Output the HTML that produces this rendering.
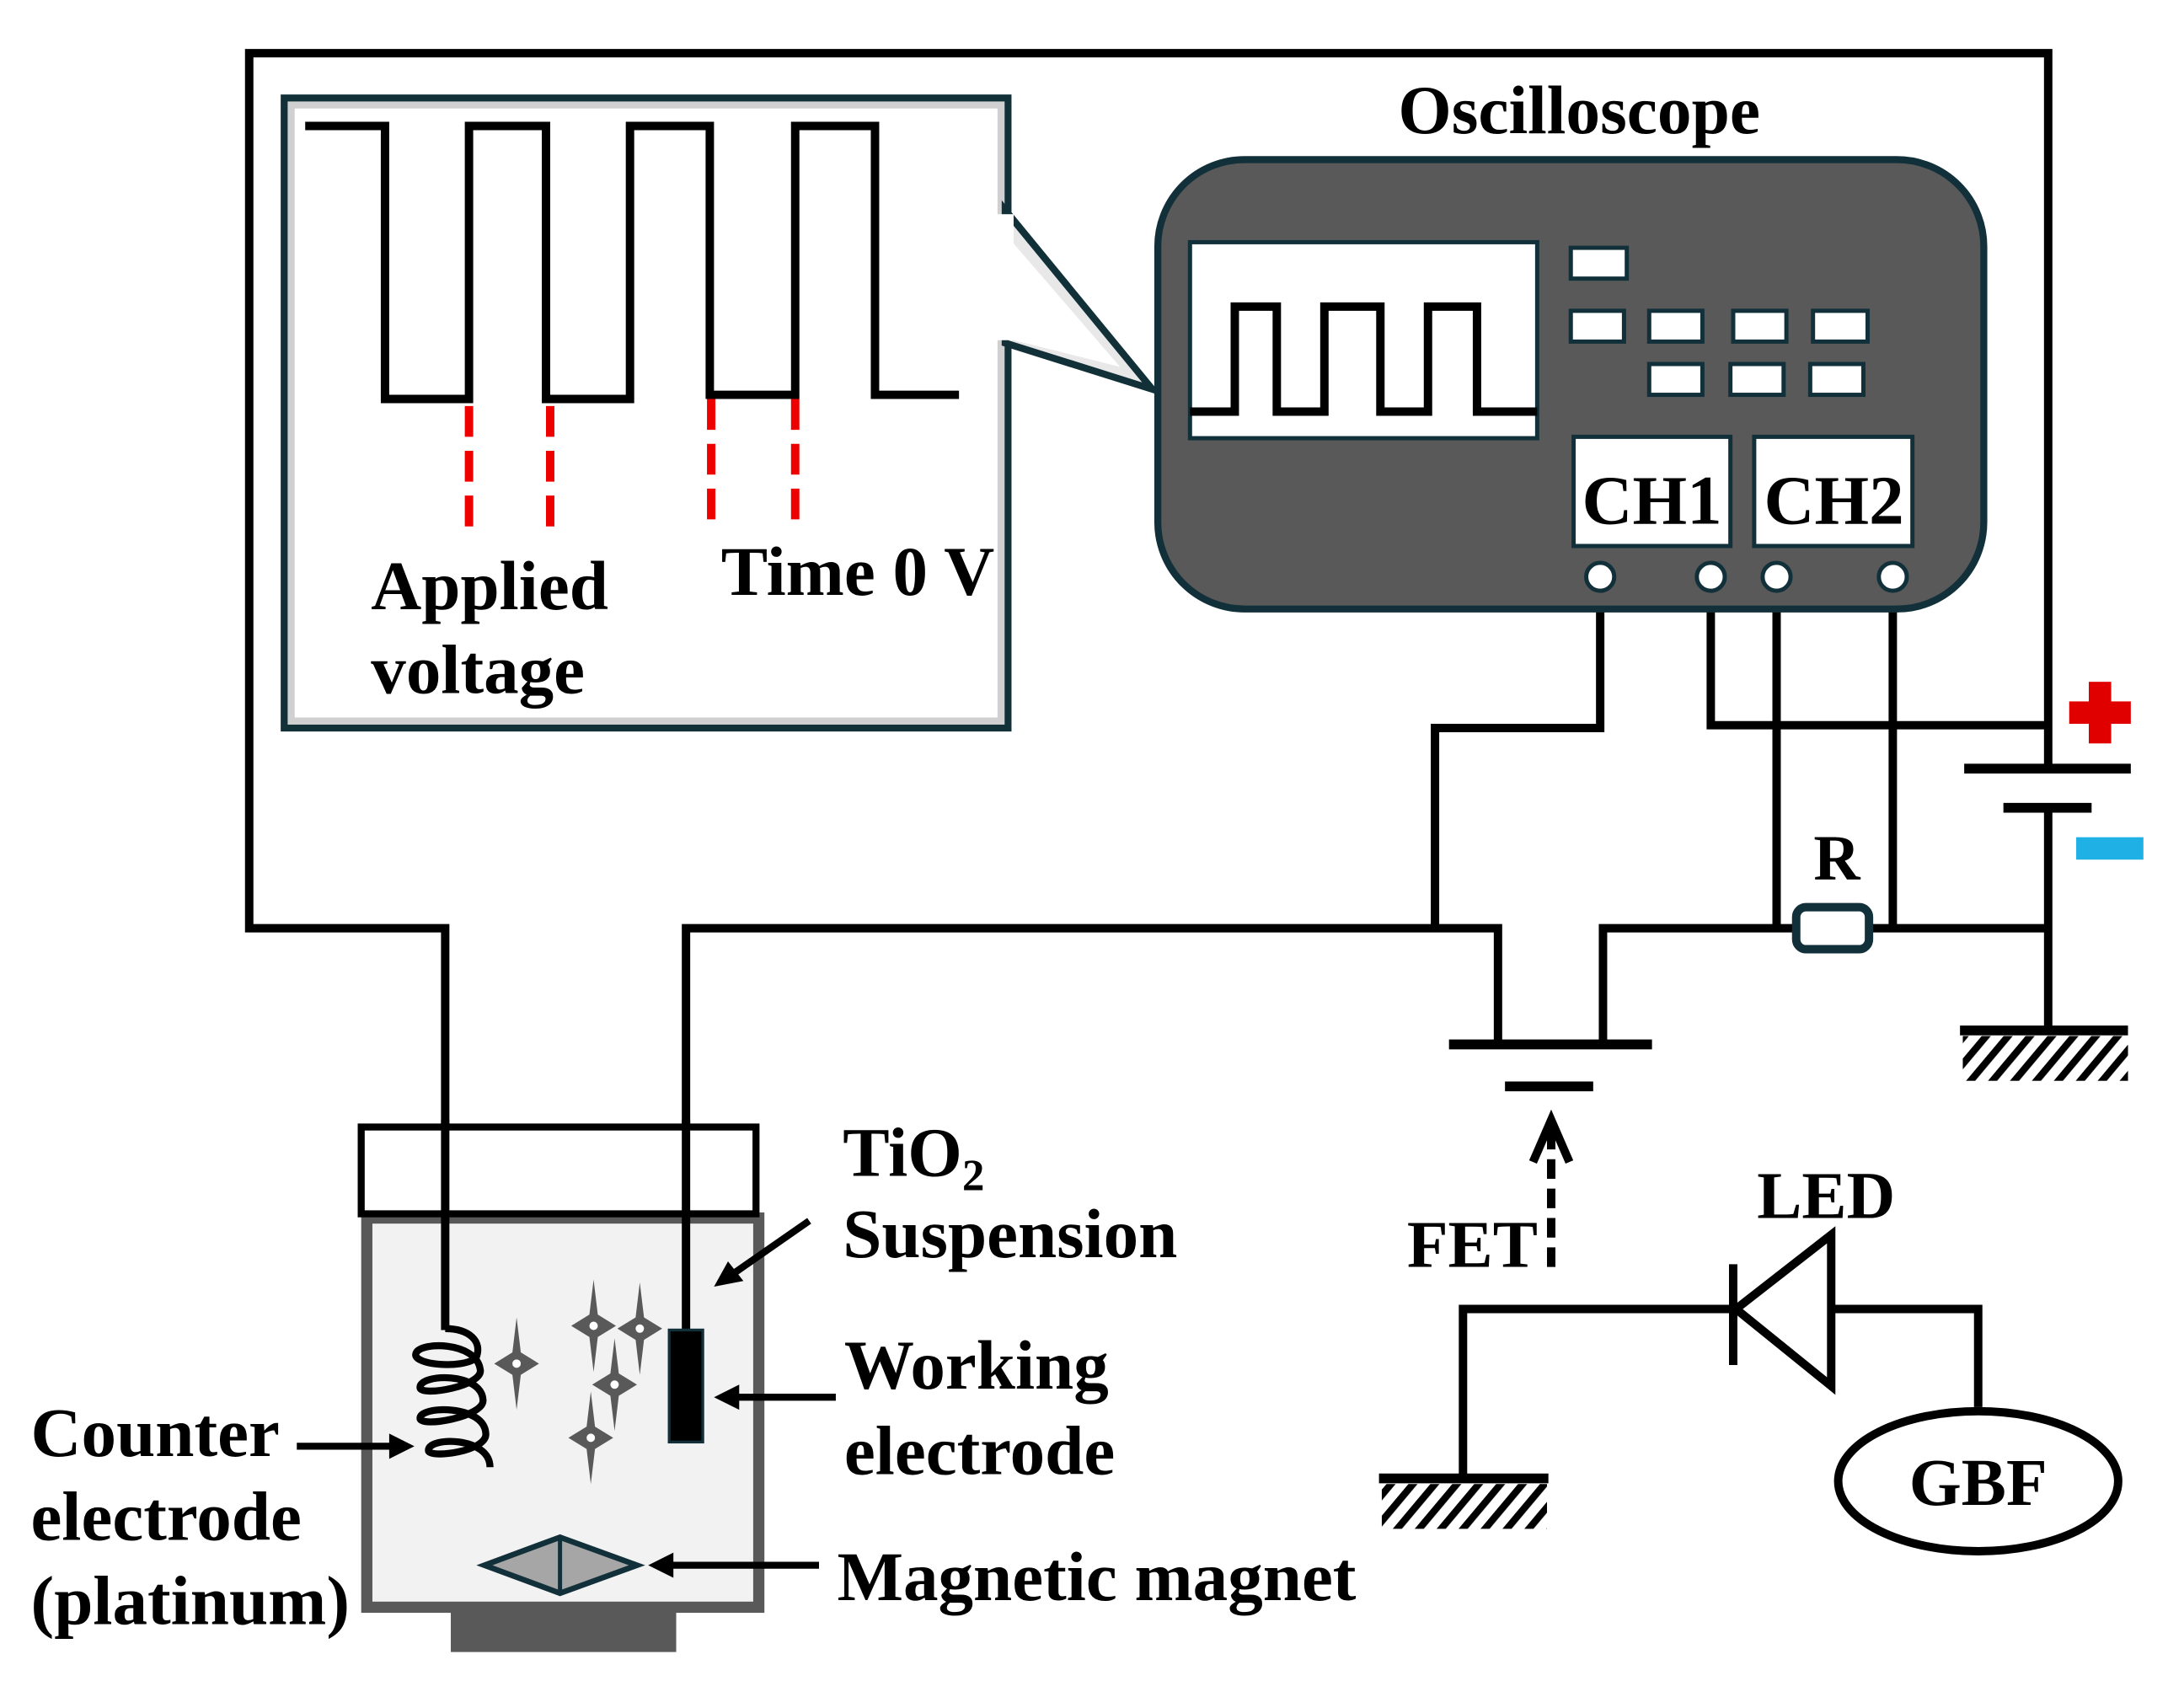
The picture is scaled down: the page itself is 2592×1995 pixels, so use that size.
<!DOCTYPE html>
<html><head><meta charset="utf-8"><style>
html,body{margin:0;padding:0;background:#fff}
svg{display:block}
text{font-family:"Liberation Serif",serif;font-weight:bold;fill:#000}
</style></head><body>
<svg width="2592" height="1995" viewBox="0 0 1560 1200.7" xmlns="http://www.w3.org/2000/svg">
<defs>
<pattern id="hatch" width="12" height="12" patternUnits="userSpaceOnUse" patternTransform="rotate(40)">
<rect width="12" height="12" fill="#fff"/><rect width="5" height="12" fill="#000"/></pattern>
<g id="spk"><path d="M0,-33 L3,-8 L16,0 L3,8 L0,33 L-3,8 L-16,0 L-3,-8 Z" fill="#595959"/><circle r="3" fill="#fff"/></g>
</defs>
<g fill="none" stroke="#000" stroke-width="6">
<polyline points="318,950 318,663 178,663 178,38 1463,38 1463,548"/>
<polyline points="1463,577 1463,735"/>
<polyline points="490,950 490,663 1070,663 1070,745"/>
<polyline points="1025,663 1025,520 1143,520 1143,420"/>
<polyline points="1145,745 1145,663 1283,663"/>
<line x1="1335" y1="663" x2="1463" y2="663"/>
<polyline points="1222,420 1222,518 1463,518"/>
<line x1="1269" y1="420" x2="1269" y2="663"/>
<line x1="1352" y1="420" x2="1352" y2="663"/>
<line x1="1035" y1="746" x2="1180" y2="746" stroke-width="7"/>
<line x1="1075" y1="776" x2="1138" y2="776" stroke-width="7"/>
<line x1="1108" y1="905" x2="1108" y2="805" stroke-dasharray="14,7"/>
<polyline points="1095,830 1108,800 1121,830" stroke-width="6"/>
<line x1="1403" y1="549" x2="1522" y2="549" stroke-width="7"/>
<line x1="1431" y1="577" x2="1494" y2="577" stroke-width="7"/>
<line x1="1400" y1="736" x2="1520" y2="736" stroke-width="7"/>
<polyline points="1045,1056 1045,935 1238,935"/>
<line x1="1238" y1="903" x2="1238" y2="975"/>
<polygon points="1240,935 1308,882 1308,990"/>
<polyline points="1308,935 1413,935 1413,1005"/>
<line x1="985" y1="1056" x2="1106" y2="1056" stroke-width="7"/>
<ellipse cx="1413" cy="1058" rx="100" ry="50"/>
</g>
<rect x="1402" y="740" width="118" height="32" fill="url(#hatch)"/>
<rect x="987" y="1060" width="118" height="32" fill="url(#hatch)"/>
<rect x="1283" y="648" width="52" height="30" rx="7" fill="#fff" stroke="#12303a" stroke-width="6"/>
<text x="1312" y="628" font-size="46" text-anchor="middle">R</text>
<rect x="1492" y="487" width="16" height="44" fill="#e00000"/>
<rect x="1478" y="501" width="44" height="16" fill="#e00000"/>
<rect x="1483" y="598" width="48" height="16" fill="#1fb0e6"/>
<!-- inset -->
<rect x="203" y="70" width="517" height="450" fill="#fff" stroke="#123038" stroke-width="5"/>
<rect x="208" y="75" width="507" height="440" fill="none" stroke="#d0d0d0" stroke-width="5"/>
<polygon points="718,150 823,278 718,245" fill="#e8e8e8" stroke="#123038" stroke-width="5"/>
<rect x="704" y="153" width="20" height="90" fill="#fff"/>
<polygon points="712,160 800,262 712,240" fill="#fff"/>
<polyline fill="none" stroke="#000" stroke-width="6" points="218,90 275,90 275,285 335,285 335,90 390,90 390,285 450,285 450,90 507,90 507,282 568,282 568,90 625,90 625,282 685,282"/>
<g stroke="#e00" stroke-width="6" stroke-dasharray="22,10">
<line x1="335" y1="290" x2="335" y2="383"/><line x1="393" y1="290" x2="393" y2="383"/>
<line x1="508" y1="285" x2="508" y2="378"/><line x1="568" y1="285" x2="568" y2="378"/>
</g>
<text x="265" y="435" font-size="50">Applied</text>
<text x="265" y="495" font-size="50">voltage</text>
<text x="515" y="425" font-size="50">Time 0 V</text>
<text x="1128" y="95" font-size="49" text-anchor="middle">Oscilloscope</text>
<rect x="827" y="114" width="590" height="321" rx="62" fill="#595959" stroke="#12303a" stroke-width="5"/>
<rect x="850" y="173" width="248" height="140" fill="#fff" stroke="#12303a" stroke-width="3"/>
<polyline fill="none" stroke="#000" stroke-width="6" points="850,294 882,294 882,219 912,219 912,294 946,294 946,219 986,219 986,294 1020,294 1020,219 1055,219 1055,294 1098,294"/>
<g fill="#fff" stroke="#12303a" stroke-width="3">
<rect x="1122" y="177" width="40" height="22"/>
<rect x="1122" y="222" width="38" height="22"/><rect x="1178" y="222" width="38" height="22"/><rect x="1238" y="222" width="38" height="22"/><rect x="1295" y="222" width="39" height="22"/>
<rect x="1178" y="260" width="38" height="22"/><rect x="1236" y="260" width="38" height="22"/><rect x="1293" y="260" width="38" height="22"/>
<rect x="1124" y="312" width="112" height="78"/><rect x="1253" y="312" width="113" height="78"/>
<circle cx="1143" cy="412" r="10"/><circle cx="1222" cy="412" r="10"/><circle cx="1269" cy="412" r="10"/><circle cx="1352" cy="412" r="10"/>
</g>
<text x="1180" y="374" font-size="50" text-anchor="middle">CH1</text>
<text x="1310" y="374" font-size="50" text-anchor="middle">CH2</text>
<rect x="262" y="870" width="280" height="278" fill="#f2f2f2" stroke="#595959" stroke-width="8"/>
<rect x="322" y="1150" width="161" height="30" fill="#595959"/>
<rect x="258" y="805" width="282" height="62" fill="#fff" stroke="#000" stroke-width="5"/>
<line x1="318" y1="800" x2="318" y2="950" stroke="#000" stroke-width="6"/>
<line x1="490" y1="800" x2="490" y2="950" stroke="#000" stroke-width="6"/>
<rect x="478" y="950" width="24" height="80" fill="#000" stroke="#12303a" stroke-width="2"/>
<path d="M318,949 C335,949 345,958 340,970 M340,970 C330,978 295,975 297,967 C299,958 340,958 343,978 C346,990 300,998 300,991 C300,981 344,980 345,1000 C346,1012 300,1020 300,1013 C300,1004 346,1003 347,1024 C348,1037 306,1042 306,1036 C306,1026 350,1026 350,1048" fill="none" stroke="#000" stroke-width="5"/>
<use href="#spk" x="369" y="974"/><use href="#spk" x="424" y="947"/><use href="#spk" x="457" y="949"/><use href="#spk" x="439" y="989"/><use href="#spk" x="422" y="1027"/>
<polygon points="346,1118 400,1098 455,1118 400,1138" fill="#a6a6a6" stroke="#12303a" stroke-width="4"/>
<line x1="400" y1="1098" x2="400" y2="1138" stroke="#12303a" stroke-width="3"/>
<g stroke="#000" stroke-width="5" fill="#000">
<line x1="212" y1="1033" x2="282" y2="1033"/><polygon points="296,1033 278,1024 278,1042" stroke="none"/>
<line x1="578" y1="872" x2="522" y2="911"/><polygon points="510,919 520,901 531,915" stroke="none"/>
<line x1="597" y1="998" x2="525" y2="998"/><polygon points="510,998 528,989 528,1007" stroke="none"/>
<line x1="585" y1="1118" x2="478" y2="1118"/><polygon points="463,1118 481,1109 481,1127" stroke="none"/>
</g>
<text x="602" y="840" font-size="50">TiO<tspan font-size="32" dy="10">2</tspan></text>
<text x="602" y="898" font-size="50">Suspension</text>
<text x="603" y="992" font-size="50">Working</text>
<text x="603" y="1053" font-size="50">electrode</text>
<text x="598" y="1143" font-size="50">Magnetic magnet</text>
<text x="22" y="1040" font-size="50">Counter</text>
<text x="22" y="1100" font-size="50">electrode</text>
<text x="22" y="1160" font-size="50">(platinum)</text>
<text x="1005" y="905" font-size="48">FET</text>
<text x="1255" y="870" font-size="48">LED</text>
<text x="1413" y="1075" font-size="48" text-anchor="middle">GBF</text>
</svg>
</body></html>
